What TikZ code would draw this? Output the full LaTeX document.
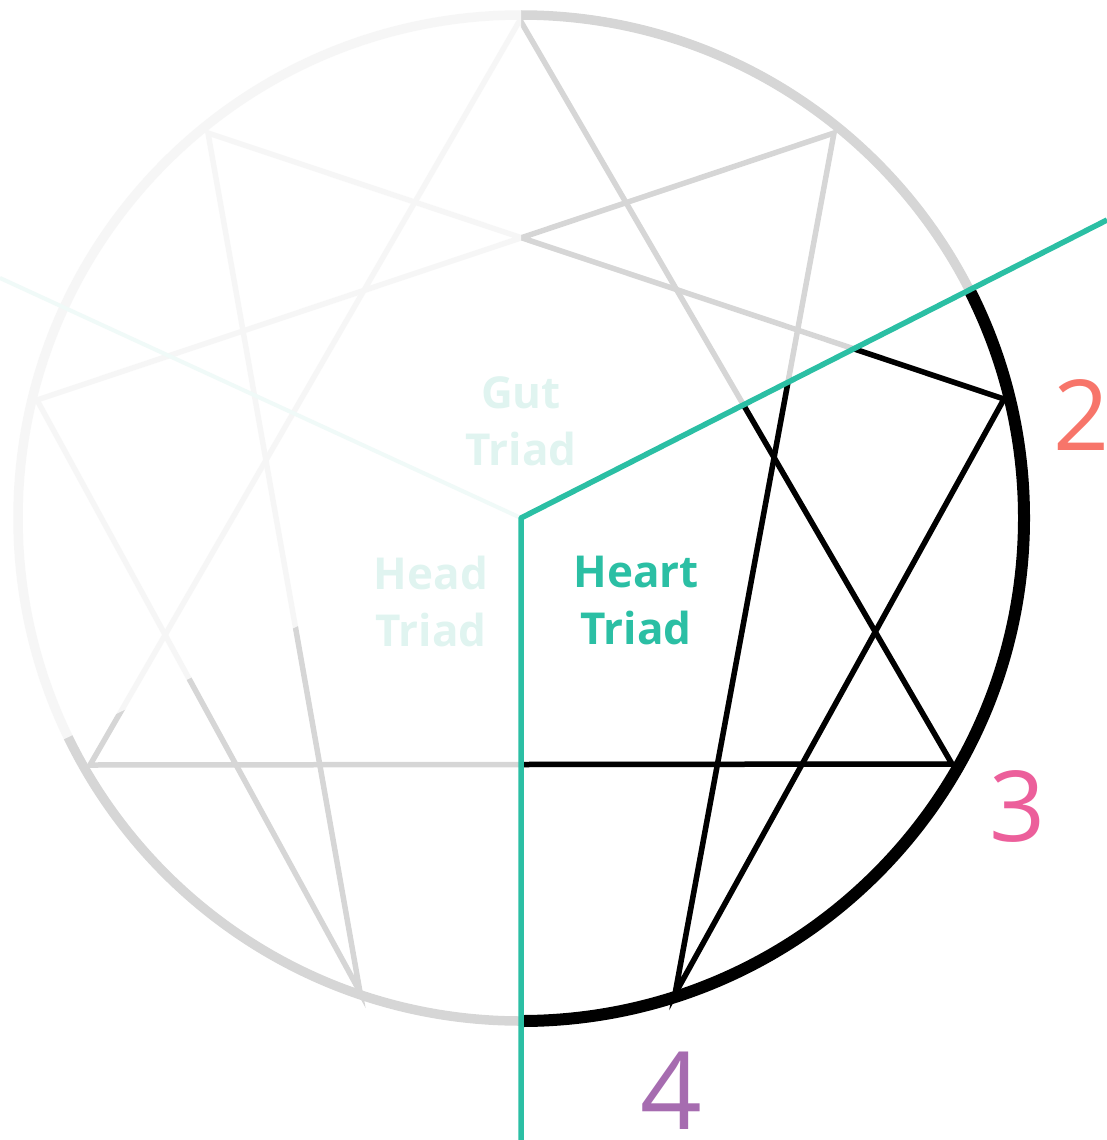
\documentclass[tikz,border=0pt]{standalone}
\usepackage{fontspec}
\setmainfont{Open Sans}
\definecolor{lgray}{HTML}{D6D6D6}
\definecolor{tealc}{HTML}{2BBFA4}
\definecolor{faintteal}{HTML}{F0FAF8}
\definecolor{fainttext}{HTML}{E0F4F0}
\definecolor{ctwo}{HTML}{F7756A}
\definecolor{cthree}{HTML}{EC5F9B}
\definecolor{cfour}{HTML}{A66CB0}
\begin{document}
\begin{tikzpicture}[x=1pt,y=-1pt,
  gline/.style={line width=5.5pt, draw=lgray, line join=miter},
  bline/.style={line width=5.5pt, draw=black, line join=miter},
  gcirc/.style={line width=9.5pt, draw=lgray},
  bcirc/.style={line width=12pt, draw=black},
  tline/.style={line width=5.5pt, draw=tealc, line join=round},
  triad/.style={font=\bfseries\fontsize{44}{57}\selectfont, align=center, inner sep=0pt},
  digit/.style={font=\fontsize{98}{98}\selectfont, inner sep=0pt}]
\useasboundingbox (0,0) rectangle (1107,1140);
\clip (0,0) rectangle (1107,1140);
% points
\coordinate (c) at (521,518);
\coordinate (p9) at (520,20);
\coordinate (p1) at (834,133);
\coordinate (p2) at (1004,399);
\coordinate (p3) at (952,764);
\coordinate (p4) at (675,994);
\coordinate (p5) at (360,992);
\coordinate (p6) at (90,765);
\coordinate (p7) at (37,400);
\coordinate (p8) at (208,133);
\coordinate (tr) at (1107,220);
\coordinate (tb) at (521,1145);
\coordinate (tl) at (0,278);
% gray base drawing
\draw[gcirc] (c) circle[radius=503];
\draw[gline] (p9) -- (p3) -- (p6) -- cycle;
\draw[gline] (p1) -- (p4) -- (p2) -- (p8) -- (p5) -- (p7) -- cycle;
% fade of the upper-left wedge
\fill[white, opacity=0.8] (c) -- (521,-10) -- (-10,-10) -- (-10,775) -- cycle;
\draw[line width=4pt, draw=faintteal] (c) -- (tl);
% faint triad labels
\node[triad, text=fainttext] (gut) at (521,421) {Gut\\Triad};
\node[triad, text=fainttext] (head) at (431,601) {Head\\Triad};
% highlighted heart part
\begin{scope}
\clip (c) -- (1250,147) -- (1250,1200) -- (521,1200) -- cycle;
\draw[bcirc] (c) circle[radius=503];
\draw[bline] (p9) -- (p3) -- (p6) -- cycle;
\draw[bline] (p1) -- (p4) -- (p2) -- (p8) -- (p5) -- (p7) -- cycle;
\end{scope}
% teal dividers
\draw[tline] (tr) -- (c) -- (tb);
\node[triad, text=tealc] (heart) at (636,601) {Heart\\Triad};
% numbers
\node[digit, text=ctwo] (n2) at (1082,415) {2};
\node[digit, text=cthree] (n3) at (1018,806) {3};
\node[digit, text=cfour, font=\fontsize{108}{108}\selectfont] (n4) at (671,1091) {4};
\end{tikzpicture}
\end{document}
